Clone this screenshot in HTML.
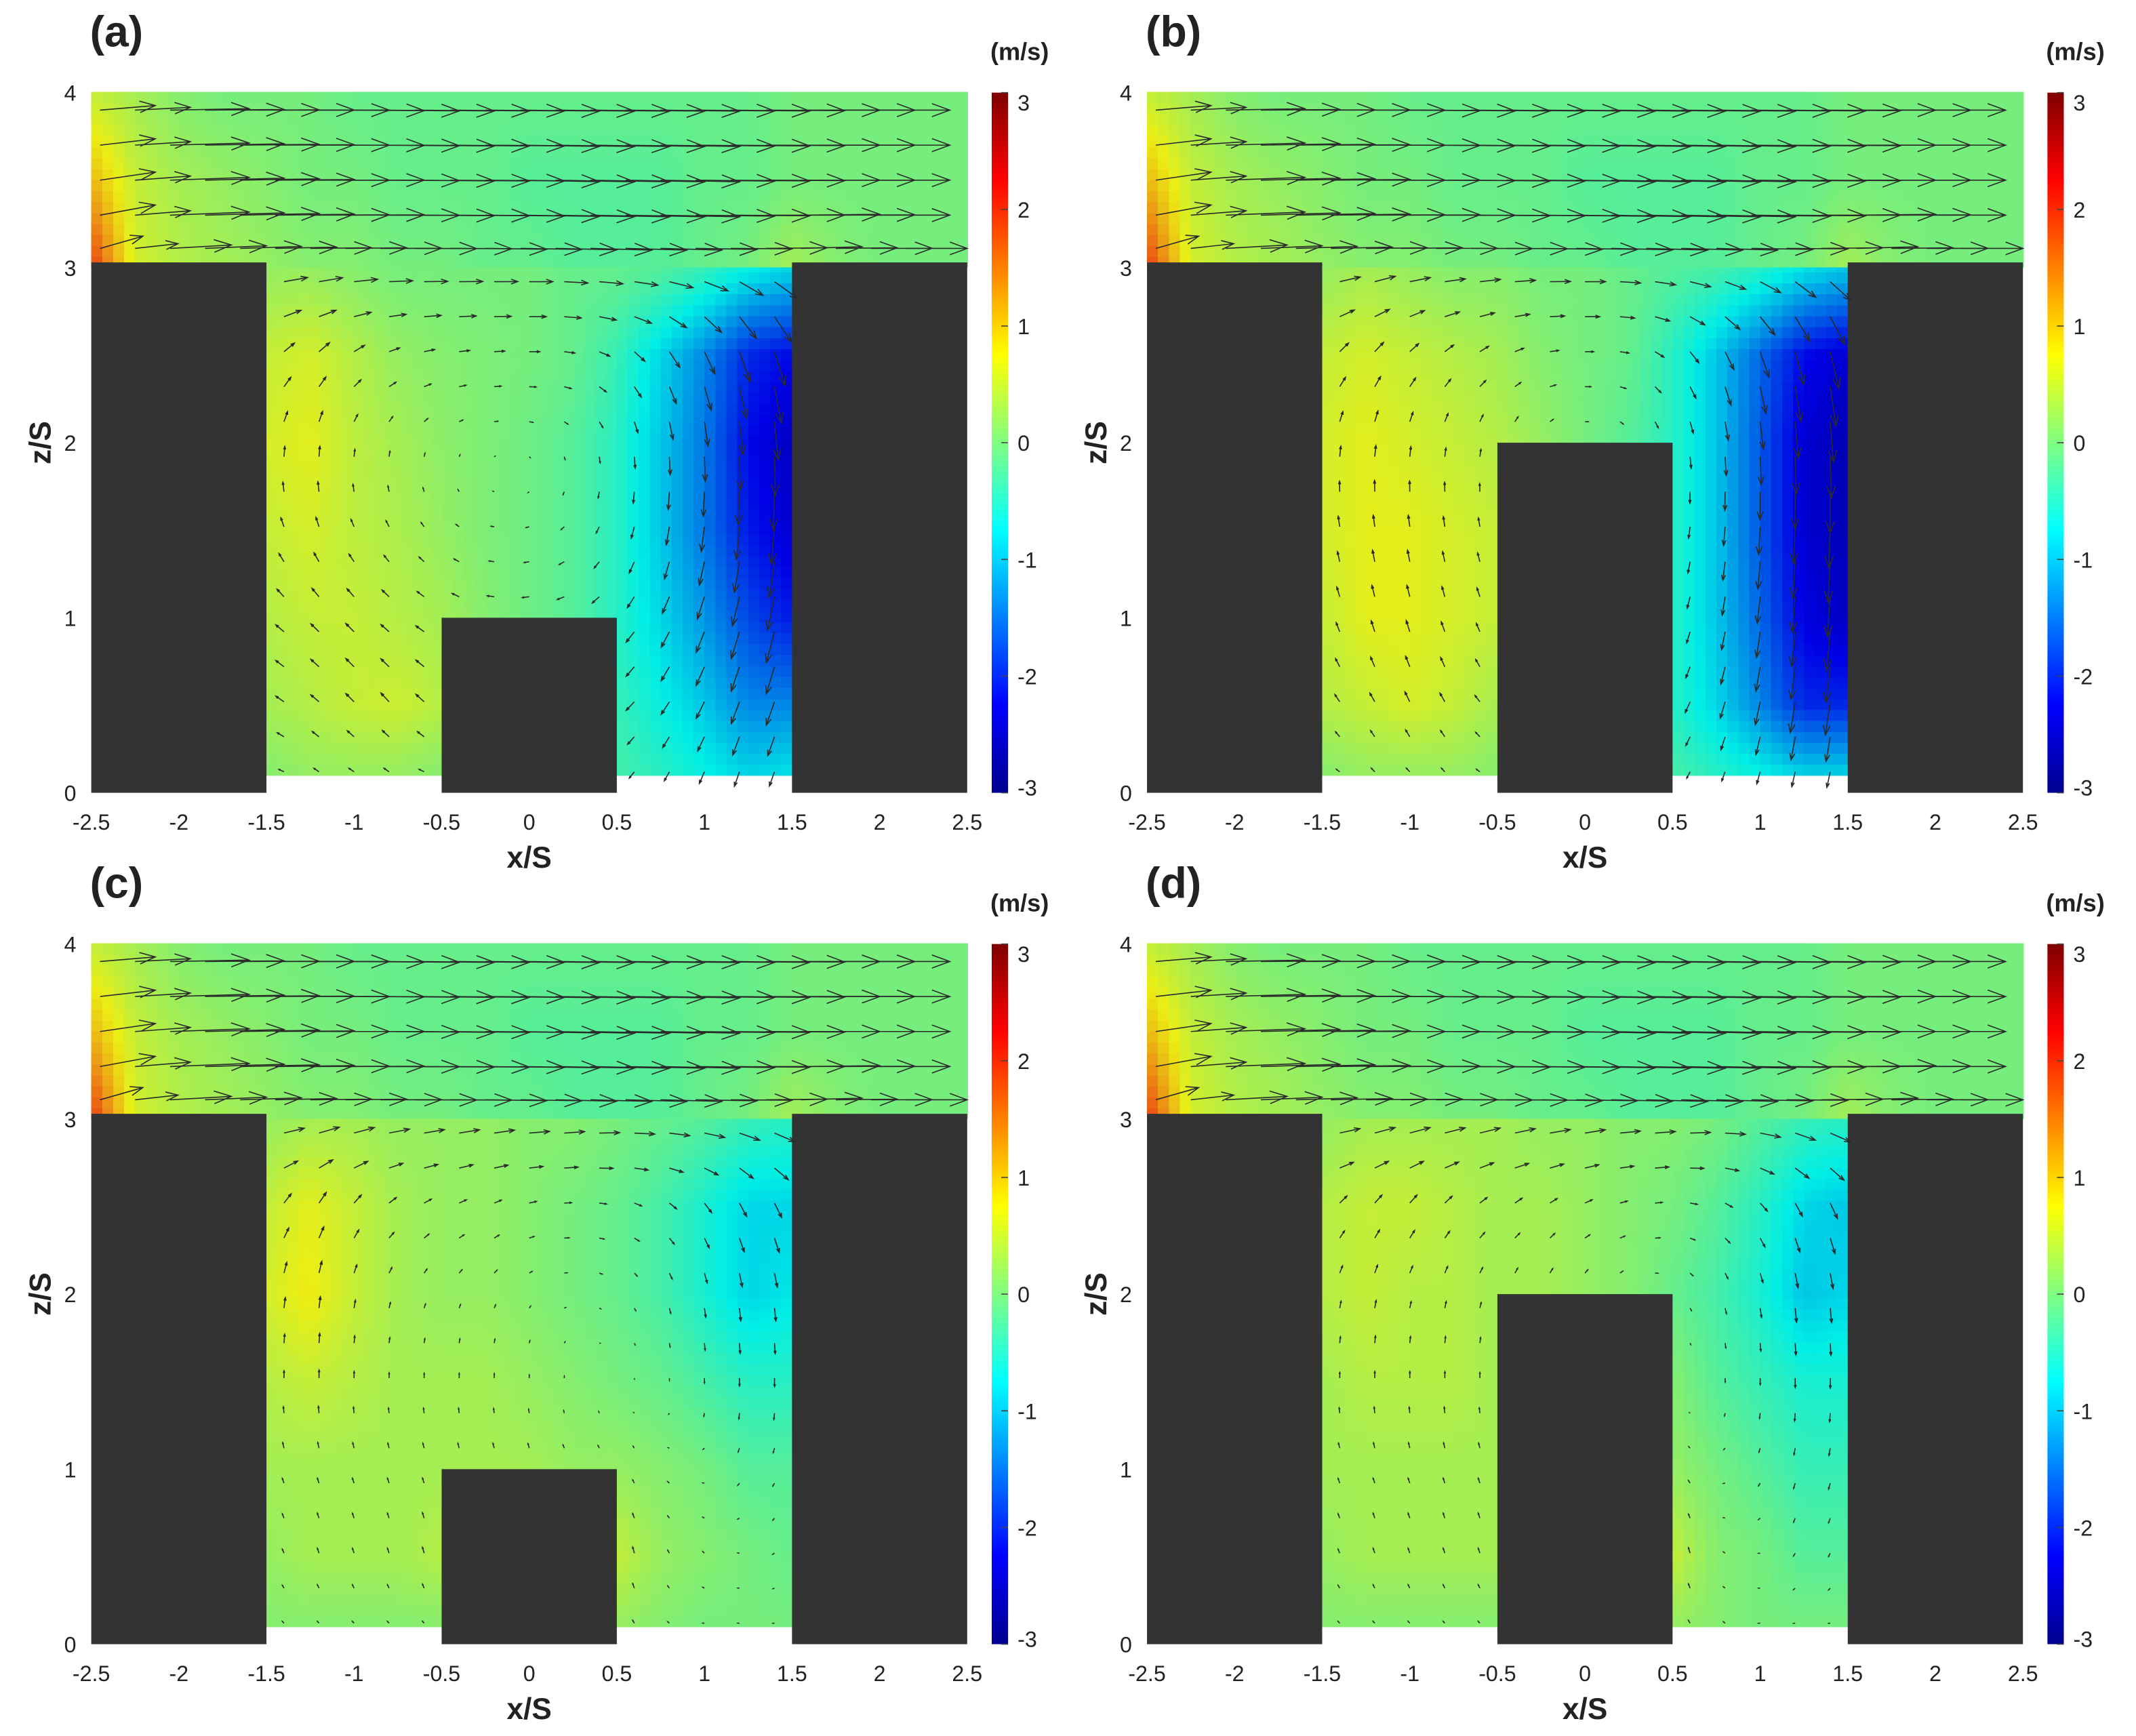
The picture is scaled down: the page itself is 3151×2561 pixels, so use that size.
<!DOCTYPE html>
<html><head><meta charset="utf-8"><style>
html,body{margin:0;padding:0;background:#fff;}
svg{display:block;}
text{font-family:"Liberation Sans",sans-serif;fill:#222;}
</style></head><body>
<svg id="fig" width="3151" height="2561" viewBox="0 0 1568 1274.4" preserveAspectRatio="none" xmlns="http://www.w3.org/2000/svg">
<defs>
<linearGradient id="jet" x1="0" y1="1" x2="0" y2="0">
<stop offset="0" stop-color="#00008f"/><stop offset="0.125" stop-color="#0000ff"/><stop offset="0.375" stop-color="#00ffff"/><stop offset="0.5" stop-color="#80ff80"/><stop offset="0.625" stop-color="#ffff00"/><stop offset="0.875" stop-color="#ff0000"/><stop offset="1" stop-color="#800000"/>
</linearGradient>
</defs>
</svg>
<script>
// Panel data: cavity vertical velocity w (rows z = 3.0,2.5,2.0,1.5,1.0,0.5,0.1 ; cols x=-1.5..1.5 step .25)
const panelLabels = ['(a)','(b)','(c)','(d)'];
const blockHeights = [1, 2, 1, 2];
const cavityA = [
 [0.2,0.2,0.1,0.0,0.0,0.0,0.0,-0.1,-0.1,-0.2,-0.4,-0.7,-0.9],
 [0.5,0.6,0.4,0.2,0.1,0.05,0.0,-0.1,-0.4,-0.9,-1.4,-2.0,-2.2],
 [0.6,0.7,0.45,0.3,0.15,0.05,-0.05,-0.2,-0.5,-1.0,-1.5,-2.2,-2.5],
 [0.5,0.6,0.45,0.35,0.2,0.05,-0.05,-0.2,-0.5,-1.0,-1.5,-2.1,-2.4],
 [0.4,0.5,0.5,0.4,0.3,0.1,-0.05,-0.2,-0.5,-0.9,-1.3,-1.8,-2.1],
 [0.3,0.4,0.5,0.55,0.4,0.0,0.0,0.0,-0.4,-0.7,-1.0,-1.4,-1.4],
 [0.1,0.2,0.2,0.2,0.1,0.0,0.0,0.0,-0.3,-0.5,-0.7,-0.9,-0.8]];
const cavityB = [
 [0.2,0.3,0.2,0.1,0.1,0.0,0.0,-0.1,-0.2,-0.3,-0.5,-0.8,-1.0],
 [0.5,0.6,0.5,0.4,0.3,0.1,0.0,-0.1,-0.5,-1.0,-1.6,-2.2,-2.4],
 [0.6,0.7,0.6,0.5,0.4,0.2,0.0,-0.2,-0.5,-1.0,-1.7,-2.4,-2.6],
 [0.6,0.7,0.7,0.6,0.5,0.2,0.0,-0.2,-0.5,-1.0,-1.7,-2.4,-2.6],
 [0.5,0.7,0.7,0.6,0.5,0.2,0.0,-0.2,-0.5,-1.0,-1.6,-2.3,-2.5],
 [0.4,0.5,0.6,0.5,0.3,0.1,0.0,-0.2,-0.5,-0.9,-1.4,-2.0,-2.0],
 [0.1,0.2,0.2,0.2,0.1,0.0,0.0,0.0,-0.3,-0.5,-0.7,-0.9,-0.9]];
const cavityC = [
 [0.2,0.3,0.3,0.2,0.2,0.2,0.1,0.1,0.0,-0.1,-0.2,-0.4,-0.5],
 [0.5,0.7,0.5,0.3,0.2,0.2,0.1,0.0,-0.1,-0.3,-0.6,-0.9,-0.9],
 [0.6,0.8,0.5,0.3,0.2,0.2,0.1,0.0,-0.1,-0.3,-0.6,-0.9,-0.8],
 [0.4,0.5,0.4,0.3,0.3,0.3,0.2,0.1,0.0,-0.1,-0.3,-0.5,-0.5],
 [0.3,0.3,0.3,0.3,0.3,0.3,0.3,0.2,0.2,0.1,0.0,-0.2,-0.2],
 [0.2,0.3,0.3,0.3,0.4,0.3,0.2,0.3,0.5,0.2,0.1,0.0,-0.1],
 [0.1,0.1,0.1,0.1,0.1,0.1,0.1,0.1,0.2,0.1,0.0,0.0,0.0]];
const cavityD = [
 [0.2,0.3,0.3,0.3,0.3,0.2,0.2,0.1,0.1,0.0,-0.2,-0.4,-0.5],
 [0.4,0.5,0.5,0.4,0.3,0.3,0.2,0.1,0.0,-0.2,-0.5,-0.9,-1.0],
 [0.4,0.5,0.4,0.4,0.3,0.3,0.2,0.1,-0.1,-0.3,-0.6,-1.0,-0.9],
 [0.3,0.4,0.4,0.4,0.3,0.3,0.2,0.1,0.1,-0.2,-0.4,-0.6,-0.6],
 [0.3,0.3,0.3,0.3,0.3,0.2,0.2,0.1,0.2,0.0,-0.2,-0.4,-0.4],
 [0.2,0.3,0.3,0.3,0.3,0.2,0.2,0.1,0.5,0.1,0.0,-0.2,-0.2],
 [0.1,0.1,0.1,0.1,0.1,0.1,0.1,0.1,0.2,0.1,0.0,0.0,0.0]];
const cavities = [cavityA, cavityB, cavityC, cavityD];
// horizontal velocity u per cavity row (z = 3.0 .. 0.1)
const uRowsA = [1.6,0.6,0.1,-0.2,-0.5,-0.5,-0.3];
const uRowsB = [1.4,0.5,0.1,-0.1,-0.2,-0.3,-0.2];
const uRowsC = [1.4,0.4,0.1,0.0,-0.1,-0.1,-0.1];
const uRowsD = [1.4,0.4,0.1,0.0,-0.1,-0.1,-0.1];
const uRows = [uRowsA, uRowsB, uRowsC, uRowsD];
// top region w (rows z = 4.0, 3.5, 3.0 ; cols x = -2.5..2.5 step .25)
const topField = [
 [0.5,0.3,0.1,0.0,0.0,0.0,-0.1,-0.1,-0.1,-0.1,-0.1,-0.1,-0.1,-0.1,-0.1,-0.1,0.0,0.0,0.0,0.0,0.0],
 [1.1,0.5,0.3,0.2,0.1,0.0,0.0,-0.1,-0.1,-0.1,-0.2,-0.2,-0.2,-0.2,-0.1,-0.1,0.0,0.0,0.0,0.0,0.0],
 [1.9,0.6,0.4,0.3,0.2,0.1,0.1,0.0,0.0,-0.1,-0.1,-0.2,-0.2,-0.2,-0.1,0.0,0.3,0.1,0.0,0.0,0.0]];
const xTicks = ['-2.5','-2','-1.5','-1','-0.5','0','0.5','1','1.5','2','2.5'];
const zTicks = ['0','1','2','3','4'];
const cbTicks = ['-3','-2','-1','0','1','2','3'];

const NS='http://www.w3.org/2000/svg';
const svg=document.getElementById('fig');
const offX=[0,775,0,775], offY=[0,0,625,625];
const U=128.6, VZ=128.5;
function mk(tag,attrs,parent){const e=document.createElementNS(NS,tag);for(const k in attrs)e.setAttribute(k,attrs[k]);(parent||svg).appendChild(e);return e;}
function clamp(v){return Math.max(0,Math.min(1,v));}
function jet(v){const t=(v+3)/6;const r=clamp(1.5-Math.abs(4*t-3)),g=clamp(1.5-Math.abs(4*t-2)),b=clamp(1.5-Math.abs(4*t-1));
 return 'rgb('+Math.round(r*235)+','+Math.round(g*238)+','+Math.round(b*230+(1-b)*20)+')';}
function bilin(grid,zs,x0,dx,x,z){
 const nC=grid[0].length;let fc=(x-x0)/dx;fc=Math.max(0,Math.min(nC-1.0001,fc));const c=Math.floor(fc),tc=fc-c;
 let r=zs.length-2;for(let i=0;i<zs.length-1;i++){if(z<=zs[i]&&z>=zs[i+1]){r=i;break;}}
 if(z>zs[0])r=0;
 const tz=Math.max(0,Math.min(1,(zs[r]-z)/(zs[r]-zs[r+1])));
 const a=grid[r][c]*(1-tc)+grid[r][c+1]*tc,b=grid[r+1][c]*(1-tc)+grid[r+1][c+1]*tc;return a*(1-tz)+b*tz;}
function rowInterp(arr,zs,z){for(let i=0;i<zs.length-1;i++){if(z<=zs[i]&&z>=zs[i+1]){const t=(zs[i]-z)/(zs[i]-zs[i+1]);return arr[i]*(1-t)+arr[i+1]*t;}}return z>zs[0]?arr[0]:arr[arr.length-1];}
const cavZ=[3.0,2.5,2.0,1.5,1.0,0.5,0.1], topZ=[4.0,3.5,3.0];

for(let p=0;p<4;p++){
 const ox=offX[p], oy=offY[p];
 const X=x=>ox+67+(x+2.5)*U, Y=z=>oy+582-z*VZ;
 const g=mk('g',{});
 
 
 const fg=mk('g',{'shape-rendering':'crispEdges'},g);
 
 
 const st=0.0625;
 for(let x=-2.5;x<2.5-1e-6;x+=st){for(let z=3.0;z<4-1e-6;z+=st){
  const v=bilin(topField,topZ,-2.5,0.25,x+st/2,z+st/2);
  mk('rect',{x:X(x),y:Y(z+st)-0.5,width:st*U+0.6,height:st*VZ+0.6,fill:jet(v)},fg);}}
 for(let x=-1.5;x<1.5-1e-6;x+=st){for(let z=0.1;z<3.0-1e-6;z+=st){
  const zz=Math.min(z+st,3.0);
  const v=bilin(cavities[p],cavZ,-1.5,0.25,x+st/2,(z+zz)/2);
  mk('rect',{x:X(x),y:Y(zz)-0.3,width:st*U+0.6,height:(zz-z)*VZ+0.6,fill:jet(v)},fg);}}
 const bh=blockHeights[p];
 const b1=mk('rect',{x:X(-2.5),y:Y(3.03),width:U,height:3.03*VZ,fill:'#333'},g);
 
 const b2=mk('rect',{x:X(1.5),y:Y(3.03),width:U,height:3.03*VZ,fill:'#333'},g);
 
 const b3=mk('rect',{x:X(-0.5),y:Y(bh),width:U,height:bh*VZ,fill:'#333'},g);
 
 const ag=mk('g',{stroke:'#2a2a2a','stroke-width':0.8,fill:'none'},g);
 
 function arrow(x,z,dxp,dyp){const x0=X(x),y0=Y(z),x1=x0+dxp,y1=y0+dyp;const L=Math.hypot(dxp,dyp);if(L<0.5)return;
  const ang=Math.atan2(dyp,dxp),h=Math.min(0.3*L,14),a=0.35;
  mk('path',{d:'M'+x0+' '+y0+'L'+x1+' '+y1+'M'+(x1-h*Math.cos(ang-a))+' '+(y1-h*Math.sin(ang-a))+'L'+x1+' '+y1+'L'+(x1-h*Math.cos(ang+a))+' '+(y1-h*Math.sin(ang+a))},ag);}
 const topRows=[3.9,3.7,3.5,3.3,3.11];
 for(const z of topRows){for(let k=0;k<24;k++){const x=-2.45+k*0.2;const w=bilin(topField,topZ,-2.5,0.25,x,z);
   const len=(z<3.2?45:58)*(x<-2.2?0.7:1);if(x+len/U>2.5)continue;arrow(x,z,len,-w*6);}}
 for(let k=0;k<15;k++){const x=-1.4+k*0.2;for(let j=0;j<15;j++){const z=0.12+j*0.2;
   if(x>-0.55&&x<0.55&&z<bh+0.05)continue;
   const w=bilin(cavities[p],cavZ,-1.5,0.25,x,z),u=rowInterp(uRows[p],cavZ,z);
   arrow(x,z,u*12,-w*12);}}
 for(let i=0;i<xTicks.length;i++){const t=mk('text',{x:X(-2.5+i*0.5),y:oy+609,'font-size':16,'text-anchor':'middle'},g);t.textContent=xTicks[i];
  }
 for(let i=0;i<zTicks.length;i++){const t=mk('text',{x:ox+56,y:Y(i)+6,'font-size':16,'text-anchor':'end'},g);t.textContent=zTicks[i];
  }
 const xl=mk('text',{x:X(0),y:oy+637,'font-size':22,'font-weight':'bold','text-anchor':'middle'},g);xl.textContent='x/S';
 
 const zl=mk('text',{x:0,y:0,'font-size':22,'font-weight':'bold','text-anchor':'middle',transform:'translate('+(ox+37)+','+(oy+325)+') rotate(-90)'},g);zl.textContent='z/S';
 
 const pl=mk('text',{x:ox+66,y:oy+34,'font-size':32,'font-weight':'bold'},g);pl.textContent=panelLabels[p];
 
 const cb=mk('rect',{x:ox+728,y:oy+68,width:12,height:514,fill:'url(#jet)'},g);
 
 for(let i=0;i<cbTicks.length;i++){const yy=oy+582-i*514/6;
  mk('line',{x1:ox+735,x2:ox+740,y1:yy,y2:yy,stroke:'#444','stroke-width':0.8},g);
  const t=mk('text',{x:ox+747,y:Math.min(Math.max(yy+6,oy+81),oy+584),'font-size':16},g);t.textContent=cbTicks[i];
  }
 const un=mk('text',{x:ox+727,y:oy+44,'font-size':18,'font-weight':'bold'},g);un.textContent='(m/s)';
 
}
</script>
</body></html>
